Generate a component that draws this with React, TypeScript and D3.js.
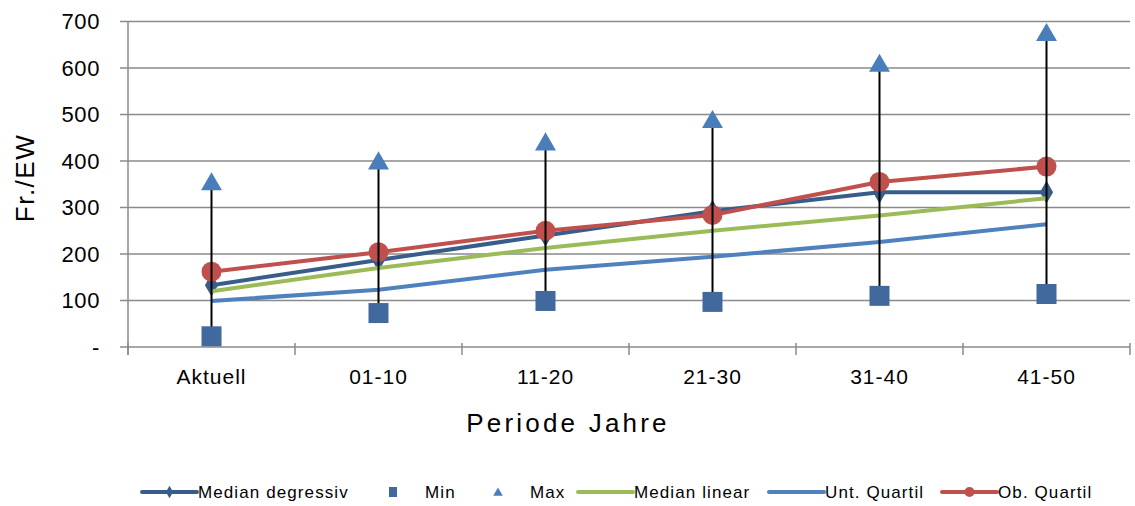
import React from "react";
import * as d3 from "d3";

// Kosten je Einwohner (Fr./EW) pro Periode
const categories = ["Aktuell", "01-10", "11-20", "21-30", "31-40", "41-50"];
const medianDegressiv = [133, 187, 240, 292, 333, 333];
const minValues = [23, 73, 99, 97, 110, 114];
const maxValues = [352, 397, 438, 486, 607, 673];
const medianLinear = [120, 170, 213, 250, 283, 320];
const untQuartil = [99, 123, 166, 194, 226, 264];
const obQuartil = [162, 204, 250, 284, 355, 388];
const yTicks = [0, 100, 200, 300, 400, 500, 600, 700];

const W = 1135;
const H = 506;
const plot = { left: 128, right: 1130, top: 21.5, bottom: 347 };
const FONT = "'Liberation Sans', Arial, sans-serif";

const C = {
  deg: "#385D8A",
  min: "#41699E",
  max: "#4A7EBB",
  lin: "#9BBB59",
  unt: "#4F81BD",
  ob: "#C0504D",
  grid: "#8A8A8A",
};

export default function App() {
  const x = d3.scaleBand<string>().domain(categories).range([plot.left, plot.right]);
  const cx = (c: string) => (x(c) as number) + x.bandwidth() / 2;
  const y = d3.scaleLinear().domain([0, 700]).range([plot.bottom, plot.top]);

  const line = d3
    .line<number>()
    .x((_, i) => cx(categories[i]))
    .y((d) => y(d));

  const diamond = d3.symbol(d3.symbolDiamond, 150)();
  const tri = d3.symbol(d3.symbolTriangle, 190)();

  // legend entries, left to right
  const legendY = 492;
  const legend = [
    { label: "Median degressiv", x: 142, kind: "line", color: C.deg, marker: "diamond" },
    { label: "Min", x: 380, kind: "marker", color: C.min, marker: "square" },
    { label: "Max", x: 485, kind: "marker", color: C.max, marker: "triangle" },
    { label: "Median linear", x: 578, kind: "line", color: C.lin, marker: "" },
    { label: "Unt. Quartil", x: 769, kind: "line", color: C.unt, marker: "" },
    { label: "Ob. Quartil", x: 942, kind: "line", color: C.ob, marker: "circle" },
  ];

  const boundaries = [plot.left, ...categories.map((c) => (x(c) as number) + x.bandwidth())];

  return (
    <svg
      width={W}
      height={H}
      style={{ position: "absolute", left: 0, top: 0, background: "#fff" }}
      fontFamily={FONT}
    >
      {/* gridlines and y ticks */}
      {yTicks.map((t) => (
        <g key={t}>
          <line
            x1={plot.left - 8}
            x2={plot.right}
            y1={y(t)}
            y2={y(t)}
            stroke={C.grid}
            strokeWidth={1.5}
          />
          <text
            x={100}
            y={y(t)}
            dy="0.36em"
            textAnchor="end"
            fontSize={22}
            letterSpacing={0.6}
            fill="#000"
          >
            {t === 0 ? "-" : t}
          </text>
        </g>
      ))}
      {/* y axis */}
      <line x1={plot.left} x2={plot.left} y1={plot.top} y2={plot.bottom + 8} stroke={C.grid} strokeWidth={1.5} />
      {/* category ticks */}
      {boundaries.map((b, i) => (
        <line key={i} x1={b} x2={b} y1={plot.bottom - 4} y2={plot.bottom + 8} stroke={C.grid} strokeWidth={1.5} />
      ))}
      {/* category labels */}
      {categories.map((c) => (
        <text key={c} x={cx(c)} y={384} textAnchor="middle" fontSize={21} letterSpacing={1.0} fill="#000">
          {c}
        </text>
      ))}
      <text x={568} y={432} textAnchor="middle" fontSize={26} letterSpacing={3.2} fill="#000">
        Periode Jahre
      </text>
      <text
        transform={`translate(34,178) rotate(-90)`}
        textAnchor="middle"
        fontSize={26}
        letterSpacing={1.5}
        fill="#000"
      >
        Fr./EW
      </text>

      {/* series lines */}
      <path d={line(medianDegressiv) as string} fill="none" stroke={C.deg} strokeWidth={4} strokeLinejoin="round" />
      {medianDegressiv.map((v, i) => (
        <path key={i} d={diamond as string} transform={`translate(${cx(categories[i])},${y(v)})`} fill={C.deg} />
      ))}
      <path d={line(medianLinear) as string} fill="none" stroke={C.lin} strokeWidth={4} strokeLinejoin="round" />
      <path d={line(untQuartil) as string} fill="none" stroke={C.unt} strokeWidth={4} strokeLinejoin="round" />
      <path d={line(obQuartil) as string} fill="none" stroke={C.ob} strokeWidth={4} strokeLinejoin="round" />
      {obQuartil.map((v, i) => (
        <circle key={i} cx={cx(categories[i])} cy={y(v)} r={10} fill={C.ob} />
      ))}

      {/* high-low lines */}
      {categories.map((c, i) => (
        <line key={c} x1={cx(c)} x2={cx(c)} y1={y(minValues[i])} y2={y(maxValues[i])} stroke="#000" strokeWidth={2} />
      ))}
      {/* min / max markers */}
      {minValues.map((v, i) => (
        <rect key={i} x={cx(categories[i]) - 10} y={y(v) - 10} width={20} height={20} fill={C.min} />
      ))}
      {maxValues.map((v, i) => (
        <path key={i} d={tri as string} transform={`translate(${cx(categories[i])},${y(v) + 1})`} fill={C.max} />
      ))}

      {/* legend */}
      {legend.map((l) => {
        const mid = l.kind === "line" ? l.x + 27.5 : l.x + 13;
        const textX = l.kind === "line" ? l.x + 56 : l.x + 45;
        return (
          <g key={l.label}>
            {l.kind === "line" && (
              <line x1={l.x} x2={l.x + 55} y1={legendY} y2={legendY} stroke={l.color} strokeWidth={4} strokeLinecap="round" />
            )}
            {l.marker === "diamond" && (
              <path d={d3.symbol(d3.symbolDiamond, 45)() as string} transform={`translate(${mid},${legendY})`} fill={l.color} />
            )}
            {l.marker === "circle" && <circle cx={mid} cy={legendY} r={5} fill={l.color} />}
            {l.marker === "square" && <rect x={mid - 4} y={legendY - 5} width={8} height={10} fill={l.color} />}
            {l.marker === "triangle" && (
              <path d={d3.symbol(d3.symbolTriangle, 40)() as string} transform={`translate(${mid},${legendY + 1})`} fill={l.color} />
            )}
            <text x={textX} y={legendY + 6} fontSize={17} letterSpacing={1.1} fill="#000">
              {l.label}
            </text>
          </g>
        );
      })}
    </svg>
  );
}
